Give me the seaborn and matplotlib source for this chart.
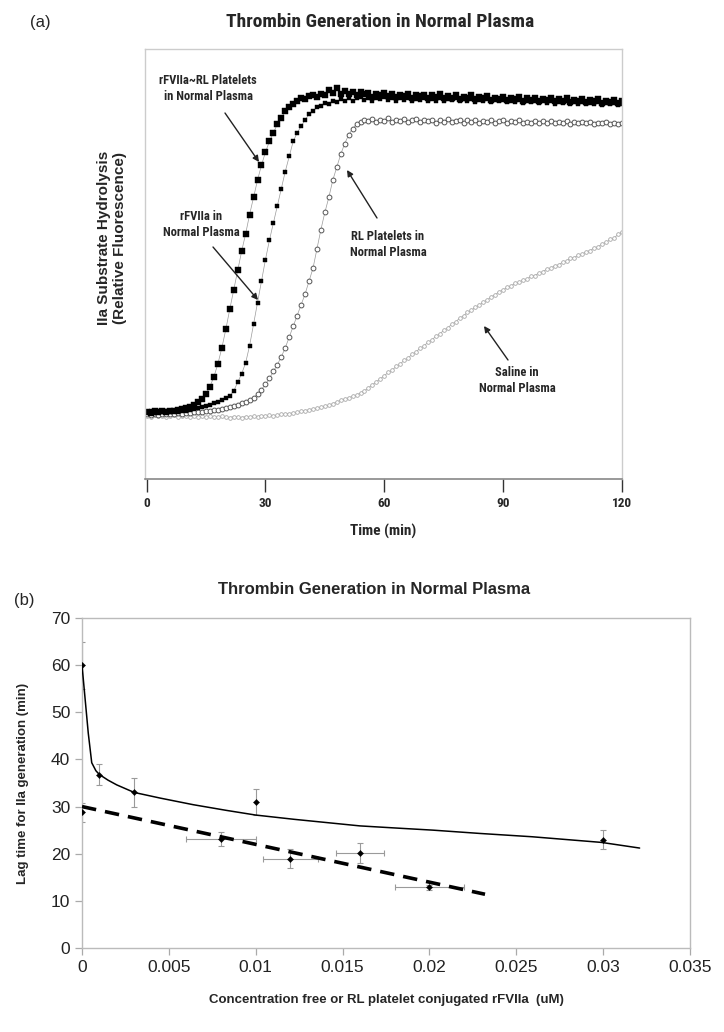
import numpy as np
import pandas as pd
import matplotlib
matplotlib.use("Agg")
import matplotlib.pyplot as plt
import seaborn as sns

# ---------------- Panel (a) data: time course (min) ----------------
time_min = list(range(0, 121))

rl_rfviia = [  # rFVIIa~RL Platelets in Normal Plasma
    15.6, 15.4, 15.7, 15.5, 15.8, 15.6, 15.9, 15.7, 16.0, 16.2,
    16.5, 16.8, 17.2, 17.8, 18.6, 19.8, 21.5, 23.8, 26.8, 30.5,
    34.8, 39.5, 44.0, 48.5, 53.0, 57.0, 61.5, 65.5, 69.5, 73.0,
    76.0, 78.5, 80.5, 82.5, 84.0, 85.5, 86.5, 87.3, 87.8, 88.5,
    88.3, 89.0, 89.2, 88.8, 89.6, 89.4, 90.5, 89.8, 91.0, 89.5,
    90.2, 89.6, 89.9, 89.3, 90.0, 89.5, 89.8, 88.9, 89.6, 89.2,
    89.7, 89.0, 89.5, 88.8, 89.4, 89.1, 89.6, 88.7, 89.3, 89.0,
    89.4, 88.6, 89.2, 88.9, 89.5, 88.5, 89.0, 88.7, 89.3, 88.4,
    88.9, 88.6, 89.2, 88.3, 88.8, 88.5, 89.0, 88.2, 88.7, 88.4,
    88.9, 88.1, 88.6, 88.3, 88.8, 88.0, 88.5, 88.2, 88.7, 87.9,
    88.4, 88.1, 88.6, 87.8, 88.3, 88.0, 88.5, 87.7, 88.2, 87.9,
    88.4, 87.6, 88.1, 87.8, 88.3, 87.5, 88.0, 87.7, 88.2, 87.4,
    87.9]

free_rfviia = [  # rFVIIa in Normal Plasma
    15.5, 15.7, 15.4, 15.6, 15.5, 15.8, 15.6, 15.7, 15.5, 15.8,
    15.7, 16.0, 16.2, 16.4, 16.8, 17.0, 17.3, 17.6, 17.9, 18.3,
    18.8, 19.3, 20.5, 22.5, 24.5, 27.0, 31.0, 36.0, 41.0, 46.0,
    51.0, 55.5, 59.5, 63.5, 67.5, 71.5, 75.0, 78.5, 80.5, 82.0,
    83.5, 84.8, 85.5, 86.5, 86.8, 87.5, 87.2, 88.0, 87.6, 88.4,
    88.0, 88.6, 87.8, 88.5, 88.9, 88.2, 88.7, 88.0, 88.6, 88.3,
    88.8, 88.1, 88.5, 87.9, 88.6, 88.2, 88.7, 88.0, 88.4, 88.1,
    88.6, 87.9, 88.3, 88.0, 88.5, 87.8, 88.4, 88.1, 88.6, 87.9,
    88.3, 88.0, 88.4, 87.7, 88.2, 87.9, 88.3, 87.6, 88.1, 87.8,
    88.2, 87.6, 88.0, 87.7, 88.1, 87.5, 87.9, 87.6, 88.0, 87.4,
    87.8, 87.5, 87.9, 87.3, 87.7, 87.4, 87.8, 87.2, 87.6, 87.3,
    87.7, 87.1, 87.5, 87.2, 87.6, 87.0, 87.4, 87.1, 87.5, 86.9,
    87.3]

rl_platelets = [  # RL Platelets in Normal Plasma
    15.0, 14.8, 15.1, 14.9, 15.0, 15.2, 15.0, 15.1, 15.3, 15.2,
    15.3, 15.4, 15.5, 15.6, 15.6, 15.8, 15.8, 16.0, 16.1, 16.3,
    16.5, 16.8, 17.0, 17.3, 17.6, 17.8, 18.3, 18.9, 19.7, 20.8,
    22.0, 23.4, 25.0, 26.6, 28.4, 30.5, 33.0, 35.5, 38.0, 40.5,
    43.0, 46.0, 49.0, 53.5, 58.0, 62.0, 65.5, 69.5, 72.5, 75.5,
    78.0, 80.0, 81.5, 82.5, 83.0, 83.5, 83.2, 83.8, 83.1, 83.6,
    83.3, 83.9, 83.0, 83.5, 83.2, 83.7, 83.1, 83.4, 83.8, 83.0,
    83.5, 83.2, 83.6, 82.9, 83.4, 83.1, 83.7, 83.0, 83.3, 83.6,
    82.9, 83.4, 83.1, 83.5, 82.8, 83.3, 83.0, 83.6, 82.9, 83.2,
    83.5, 82.8, 83.2, 83.0, 83.4, 82.7, 83.1, 82.9, 83.3, 82.8,
    83.2, 82.9, 83.3, 82.7, 83.1, 82.8, 83.2, 82.6, 83.0, 82.8,
    83.1, 82.7, 83.0, 82.6, 82.9, 82.7, 83.0, 82.5, 82.9, 82.6,
    82.8]

saline = [  # Saline in Normal Plasma
    14.7, 14.5, 14.8, 14.6, 14.7, 14.5, 14.6, 14.8, 14.5, 14.7,
    14.6, 14.4, 14.7, 14.5, 14.6, 14.4, 14.6, 14.5, 14.4, 14.6,
    14.5, 14.3, 14.5, 14.4, 14.3, 14.5, 14.4, 14.6, 14.5, 14.7,
    14.6, 14.8, 14.7, 14.9, 15.0, 15.1, 15.2, 15.4, 15.5, 15.7,
    15.9, 16.1, 16.3, 16.5, 16.7, 16.9, 17.2, 17.5, 17.9, 18.3,
    18.6, 18.9, 19.2, 19.5, 20.0, 20.5, 21.2, 21.9, 22.6, 23.3,
    24.0, 24.8, 25.3, 26.2, 26.7, 27.6, 28.1, 29.0, 29.5, 30.4,
    30.9, 31.8, 32.3, 33.2, 33.7, 34.6, 35.1, 36.0, 36.5, 37.4,
    37.9, 38.8, 39.2, 40.0, 40.4, 41.2, 41.6, 42.4, 42.8, 43.6,
    43.9, 44.6, 44.9, 45.5, 45.7, 46.3, 46.5, 47.1, 47.3, 47.9,
    48.2, 48.8, 49.0, 49.6, 49.8, 50.4, 50.7, 51.3, 51.5, 52.1,
    52.3, 52.9, 53.1, 53.8, 54.0, 54.7, 55.0, 55.7, 56.0, 56.9,
    57.4]

time_ticks = [0, 30, 60, 90, 120]

# ---------------- Panel (b) data ----------------
# solid-line series (points with error bars)
solid_conc = [0.0, 0.001, 0.003, 0.010, 0.030]
solid_lag = [60.0, 36.8, 33.0, 31.0, 23.0]
solid_yerr = [5.0, 2.3, 3.0, 2.8, 2.0]

# dashed-line series (points with x and y error bars)
dash_conc = [0.0, 0.008, 0.012, 0.016, 0.020]
dash_lag = [28.8, 23.1, 18.9, 20.1, 12.9]
dash_xerr = [0.0, 0.002, 0.0016, 0.0014, 0.002]
dash_yerr = [2.0, 1.5, 2.0, 2.1, 0.5]

# trend curves
solid_fit_conc = [0.0, 0.0002, 0.00036, 0.00056, 0.0008, 0.001, 0.0015, 0.002,
                  0.003, 0.0045, 0.0064, 0.0083, 0.010, 0.0122, 0.0141,
                  0.016, 0.0183, 0.0202, 0.0229, 0.0259, 0.0299, 0.0321]
solid_fit_lag = [60.0, 52.0, 45.6, 39.3, 37.6, 36.8, 35.6, 34.6,
                 33.0, 31.8, 30.4, 29.2, 28.2, 27.3, 26.6,
                 25.9, 25.4, 25.0, 24.3, 23.6, 22.4, 21.2]
dash_fit_conc = [0.0, 0.0232]
dash_fit_lag = [30.0, 11.4]

conc_ticks = [0, 0.005, 0.01, 0.015, 0.02, 0.025, 0.03, 0.035]
conc_ticklabels = ["0", "0.005", "0.01", "0.015", "0.02", "0.025", "0.03", "0.035"]
lag_ticks = [0, 10, 20, 30, 40, 50, 60, 70]

# ---------------- Styling ----------------
sns.set_theme(style="white")
plt.rcParams['font.family'] = ['Liberation Sans', 'DejaVu Sans']
NARROW = ['Liberation Sans Narrow', 'Roboto Condensed', 'Liberation Sans', 'DejaVu Sans']

W, H = 724, 1032
fig = plt.figure(figsize=(W / 100, H / 100), dpi=100)

def rect(l, t, r, b):
    return [l / W, 1 - b / H, (r - l) / W, (b - t) / H]

# ================= Panel (a) =================
ax1 = fig.add_axes(rect(145, 49, 622, 479))

series = [
    ("rFVIIa~RL", rl_rfviia, dict(marker='s', s=13, color='black', edgecolor='black', linewidth=0.3)),
    ("rFVIIa", free_rfviia, dict(marker='s', s=6, color='black', edgecolor='black', linewidth=0.3)),
    ("RL", rl_platelets, dict(marker='o', s=12, color='white', edgecolor='#555555', linewidth=0.7)),
    ("Saline", saline, dict(marker='o', s=7, color='white', edgecolor='#a8a8a8', linewidth=0.6)),
]
for name, vals, kw in series[::-1]:
    df = pd.DataFrame({"t": time_min, "v": vals})
    sns.lineplot(data=df, x="t", y="v", ax=ax1, color='#9a9a9a', linewidth=0.5, zorder=1)
    sns.scatterplot(data=df, x="t", y="v", ax=ax1, zorder=2, **kw)

ax1.set_xlim(-0.4, 120)
ax1.set_ylim(0, 100)
ax1.set_yticks([])
ax1.set_xticks(time_ticks)
ax1.set_xticklabels([str(t) for t in time_ticks], fontweight='bold', fontsize=9.5, family=NARROW)
ax1.tick_params(axis='x', direction='out', length=9, width=1.0, color='#333333', pad=4, bottom=True)
ax1.set_xlabel("Time (min)", fontweight='bold', fontsize=11, family=NARROW, labelpad=10)
ax1.set_ylabel("")
for sp in ['left', 'top', 'right']:
    ax1.spines[sp].set_color('#cccccc')
    ax1.spines[sp].set_linewidth(1.0)
ax1.spines['bottom'].set_color('#888888')
ax1.spines['bottom'].set_linestyle((0, (2, 1)))
ax1.spines['bottom'].set_linewidth(1.2)

fig.text(104 / W, 1 - 238 / H, "IIa Substrate Hydrolysis", rotation=90, ha='center', va='center',
         fontweight='bold', fontsize=11)
fig.text(120 / W, 1 - 238 / H, "(Relative Fluorescence)", rotation=90, ha='center', va='center',
         fontweight='bold', fontsize=11)
fig.text(380 / W, 1 - 22 / H, "Thrombin Generation in Normal Plasma", ha='center', va='center',
         fontweight='bold', fontsize=14, family=NARROW)
fig.text(40 / W, 1 - 22 / H, "(a)", ha='center', va='center', fontsize=12)

def px2data(ax, x, y):
    inv = ax.transData.inverted()
    return inv.transform(fig.transFigure.transform((x / W, 1 - y / H)))

fig.canvas.draw()
ann = [
    ("rFVIIa~RL Platelets\nin Normal Plasma", (208, 88), (225, 113), (259, 162)),
    ("rFVIIa in\nNormal Plasma", (201, 225), (213, 247), (258, 300)),
    ("RL Platelets in\nNormal Plasma", (388, 244), (377, 218), (347, 170)),
    ("Saline in\nNormal Plasma", (517, 381), (508, 360), (484, 326)),
]
for txt, tpos, tail, head in ann:
    tx, ty = px2data(ax1, *tpos)
    ax1.text(tx, ty, txt, ha='center', va='center', fontsize=9, fontweight='bold',
             family=NARROW, linespacing=1.3)
    a0 = px2data(ax1, *tail)
    a1 = px2data(ax1, *head)
    ax1.annotate("", xy=a1, xytext=a0,
                 arrowprops=dict(arrowstyle='-|>', color='#222222', lw=1.0,
                                 mutation_scale=9, shrinkA=0, shrinkB=0))

# ================= Panel (b) =================
ax2 = fig.add_axes(rect(82, 618, 690, 948))

dfs = pd.DataFrame({"c": solid_fit_conc, "l": solid_fit_lag})
sns.lineplot(data=dfs, x="c", y="l", ax=ax2, color='black', linewidth=1.1, zorder=3, sort=False)
dfd = pd.DataFrame({"c": dash_fit_conc, "l": dash_fit_lag})
sns.lineplot(data=dfd, x="c", y="l", ax=ax2, color='black', linewidth=2.6, zorder=3)
ax2.lines[-1].set_dashes((4, 2.5))

ax2.errorbar(solid_conc, solid_lag, yerr=solid_yerr, fmt='none', ecolor='#9a9a9a',
             elinewidth=0.8, capsize=2.5, capthick=0.8, zorder=2)
ax2.errorbar(dash_conc, dash_lag, xerr=dash_xerr, yerr=dash_yerr, fmt='none', ecolor='#9a9a9a',
             elinewidth=0.8, capsize=2.5, capthick=0.8, zorder=2)
pts = pd.DataFrame({"c": solid_conc + dash_conc, "l": solid_lag + dash_lag})
sns.scatterplot(data=pts, x="c", y="l", ax=ax2, marker='D', s=10, color='black',
                edgecolor='black', zorder=4)

ax2.set_xlim(0, 0.035)
ax2.set_ylim(0, 70)
ax2.set_xticks(conc_ticks)
ax2.set_xticklabels(conc_ticklabels, fontsize=12.5)
ax2.set_yticks(lag_ticks)
ax2.set_yticklabels([str(v) for v in lag_ticks], fontsize=12.5)
ax2.tick_params(axis='both', direction='out', length=5, width=0.9, color='#aaaaaa',
                bottom=True, left=True, colors='#222222')
ax2.tick_params(axis='both', color='#aaaaaa')
for sp in ax2.spines.values():
    sp.set_color('#bbbbbb')
    sp.set_linewidth(1.0)
ax2.set_xlabel("Concentration free or RL platelet conjugated rFVIIa  (uM)", fontweight='bold',
               fontsize=9.5, labelpad=14)
ax2.set_ylabel("Lag time for IIa generation (min)", fontweight='bold', fontsize=9.5, labelpad=16)

fig.text(374 / W, 1 - 590 / H, "Thrombin Generation in Normal Plasma", ha='center', va='center',
         fontweight='bold', fontsize=12)
fig.text(24 / W, 1 - 600 / H, "(b)", ha='center', va='center', fontsize=12)

fig.savefig("out.png", dpi=100)
